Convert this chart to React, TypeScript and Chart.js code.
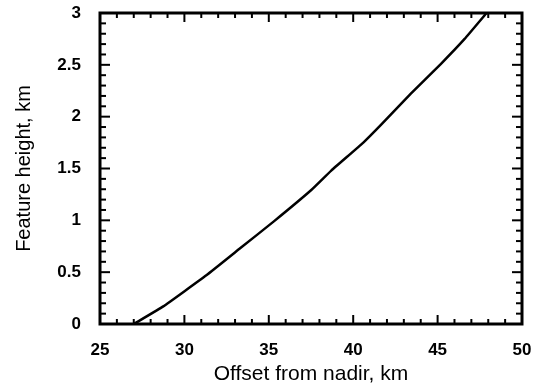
import { useEffect, useRef } from "react";
import { Chart, registerables } from "chart.js";

Chart.register(...registerables);

// Curve
const offsetsKm = [27.0, 28.75, 31.3, 33.3, 35.3, 37.5, 38.7, 40.6, 41.7, 43.4, 45.2, 46.6, 47.9];
const heightsKm = [0, 0.17, 0.47, 0.73, 0.99, 1.29, 1.48, 1.75, 1.93, 2.22, 2.51, 2.75, 3.0];

// Axes
const xTickValues = [25, 30, 35, 40, 45, 50];
const yTickValues = [0, 0.5, 1, 1.5, 2, 2.5, 3];
const xMinorStep = 1;
const yMinorStep = 0.1;
const xTitle = "Offset from nadir, km";
const yTitle = "Feature height, km";

const FONT = "'Liberation Sans', Arial, Helvetica, sans-serif";

export default function App() {
  const ref = useRef<HTMLCanvasElement>(null);

  useEffect(() => {
    if (!ref.current) return;

    const framePlugin = {
      id: "frameTicks",
      afterDraw(chart: any) {
        const { ctx, chartArea: a } = chart;
        const x = chart.scales.x;
        const y = chart.scales.y;
        ctx.save();
        ctx.strokeStyle = "#000";
        ctx.lineCap = "butt";
        ctx.lineWidth = 2;
        const seg = (x1: number, y1: number, x2: number, y2: number) => {
          ctx.beginPath();
          ctx.moveTo(x1, y1);
          ctx.lineTo(x2, y2);
          ctx.stroke();
        };
        const nx = Math.round((x.max - x.min) / xMinorStep);
        for (let i = 0; i <= nx; i++) {
          const v = x.min + i * xMinorStep;
          const px = x.getPixelForValue(v);
          const major = xTickValues.some((t) => Math.abs(t - v) < 1e-6);
          const len = major ? 9 : 5;
          seg(px, a.bottom, px, a.bottom - len);
          seg(px, a.top, px, a.top + len);
        }
        const ny = Math.round((y.max - y.min) / yMinorStep);
        for (let i = 0; i <= ny; i++) {
          const v = y.min + i * yMinorStep;
          const py = y.getPixelForValue(v);
          const major = yTickValues.some((t) => Math.abs(t - v) < 1e-6);
          const len = major ? 10 : 6;
          seg(a.left, py, a.left + len, py);
          seg(a.right, py, a.right - len, py);
        }
        ctx.lineWidth = 3;
        ctx.strokeRect(a.left, a.top, a.right - a.left, a.bottom - a.top);
        ctx.restore();
      },
    };

    const noPad = (s: any) => {
      s.paddingTop = 0;
      s.paddingBottom = 0;
      s.paddingLeft = 0;
      s.paddingRight = 0;
    };

    const chart = new Chart(ref.current, {
      type: "scatter",
      data: {
        datasets: [
          {
            data: offsetsKm.map((v, i) => ({ x: v, y: heightsKm[i] })),
            showLine: true,
            borderColor: "#000",
            borderWidth: 2.5,
            pointRadius: 0,
            tension: 0.1,
          },
        ],
      },
      options: {
        animation: false,
        responsive: true,
        maintainAspectRatio: false,
        layout: { padding: { top: 13, right: 19, left: 0, bottom: 0 } },
        plugins: { legend: { display: false }, tooltip: { enabled: false } },
        scales: {
          x: {
            type: "linear",
            min: 25,
            max: 50,
            afterBuildTicks: (s: any) => {
              s.ticks = xTickValues.map((v) => ({ value: v }));
            },
            afterFit: (s: any) => {
              s.height = 64;
              noPad(s);
            },
            grid: { display: false, drawTicks: false },
            border: { display: false },
            ticks: {
              color: "#000",
              padding: 16,
              maxRotation: 0,
              callback: (v: any) => String(v),
              font: { family: FONT, size: 17, weight: "bold" },
            },
            title: {
              display: true,
              text: xTitle,
              color: "#000",
              font: { family: FONT, size: 21 },
              padding: { top: 0, bottom: 1 },
            },
          },
          y: {
            type: "linear",
            min: 0,
            max: 3,
            afterBuildTicks: (s: any) => {
              s.ticks = yTickValues.map((v) => ({ value: v }));
            },
            afterFit: (s: any) => {
              s.width = 100;
              noPad(s);
            },
            grid: { display: false, drawTicks: false },
            border: { display: false },
            ticks: {
              color: "#000",
              padding: 19,
              callback: (v: any) => String(v),
              font: { family: FONT, size: 17, weight: "bold" },
            },
            title: {
              display: true,
              text: yTitle,
              color: "#000",
              font: { family: FONT, size: 20 },
              padding: { top: 12, bottom: 0 },
            },
          },
        },
      },
      plugins: [framePlugin],
    } as any);

    return () => chart.destroy();
  }, []);

  return (
    <div style={{ position: "absolute", left: 0, top: 0, width: 541, height: 388 }}>
      <canvas ref={ref} />
    </div>
  );
}
